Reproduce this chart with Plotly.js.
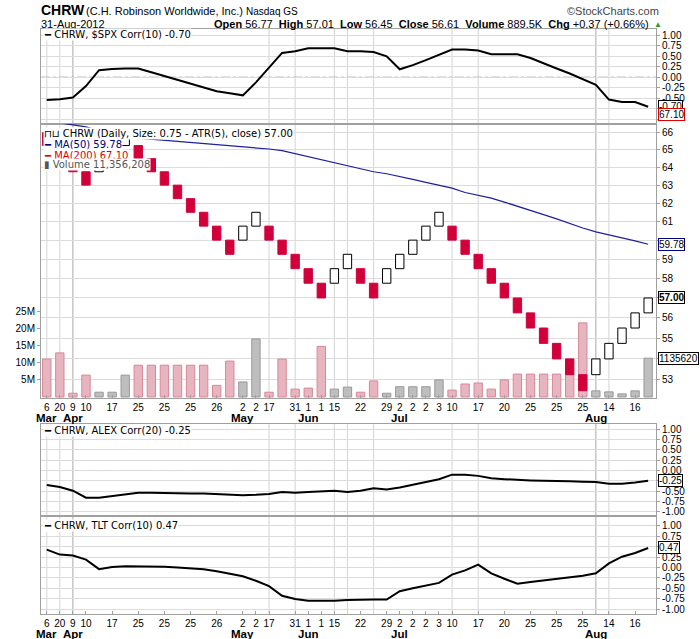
<!DOCTYPE html>
<html>
<head>
<meta charset="utf-8">
<script src="https://cdn.plot.ly/plotly-3.0.1.min.js"></script>
<style>
  body { margin: 0; background: #fff; }
  #chart { width: 700px; height: 639px; }
</style>
</head>
<body>
<div id="chart"></div>
<script>
// one renko brick per column, 6-Mar-2012 .. 31-Aug-2012
const brickLow = [65.25, 64.5, 63.75, 63, 63.75, 64.5, 65.25, 64.5, 63.75, 63, 62.25, 61.5, 60.75, 60, 59.25,
    60, 60.75, 60, 59.25, 58.5, 57.75, 57, 57.75, 58.5, 57.75, 57, 57.75, 58.5, 59.25, 60, 60.75,
    60, 59.25, 58.5, 57.75, 57, 56.25, 55.5, 54.75, 54, 53.25, 52.5, 53.25, 54, 54.75, 55.5, 56.25];
const brickDir = 'DDDDUUUDDDDDDDDUUDDDDDUUDDUUUUUDDDDDDDDDDDUUUUU'.split('');
const brickSize = 0.75;

const volumeM = [11.1, 12.9, 1.1, 6.4, 1.4, 1.4, 6.4, 9.3, 9.3, 9.3, 9.3, 9.3, 9.3, 3.4, 10.5, 4.4, 17.0,
    1.4, 11.1, 2.3, 2.6, 14.8, 2.3, 2.9, 1.4, 4.7, 1.1, 3.0, 3.0, 3.0, 5.0, 2.0, 3.8, 4.1, 2.3, 5.0,
    6.7, 6.7, 6.7, 6.7, 6.7, 21.7, 1.8, 1.5, 0.9, 1.8, 11.36];

const ma50 = [66.75, 66.57, 66.46, 66.34, 66.11, 65.93, 65.76, 65.68, 65.62, 65.56, 65.50, 65.44, 65.38,
    65.32, 65.25, 65.19, 65.13, 65.05, 64.96, 64.79, 64.62, 64.44, 64.27, 64.12, 63.95, 63.75, 63.64,
    63.50, 63.32, 63.15, 62.99, 62.83, 62.59, 62.43, 62.28, 62.06, 61.84, 61.61, 61.37, 61.14, 60.89,
    60.65, 60.44, 60.29, 60.14, 59.96, 59.78];

const corrSpx = [-0.54, -0.52, -0.48, -0.21, 0.17, 0.20, 0.21, 0.21, 0.12, 0.03, -0.06, -0.14, -0.23, -0.33,
    -0.38, -0.43, -0.12, 0.22, 0.58, 0.62, 0.69, 0.69, 0.69, 0.62, 0.62, 0.60, 0.50, 0.19, 0.29, 0.41,
    0.53, 0.66, 0.66, 0.64, 0.55, 0.55, 0.55, 0.46, 0.33, 0.21, 0.09, -0.04, -0.18, -0.53, -0.59, -0.59, -0.70];

const corrAlex = [-0.35, -0.40, -0.49, -0.66, -0.66, -0.62, -0.58, -0.54, -0.54, -0.55, -0.55, -0.56, -0.56,
    -0.57, -0.59, -0.60, -0.59, -0.57, -0.52, -0.54, -0.52, -0.51, -0.49, -0.52, -0.49, -0.43, -0.46,
    -0.41, -0.34, -0.28, -0.21, -0.10, -0.10, -0.13, -0.19, -0.21, -0.23, -0.24, -0.25, -0.25, -0.26,
    -0.27, -0.28, -0.32, -0.32, -0.29, -0.25];

const corrTlt = [0.43, 0.31, 0.29, 0.19, -0.04, 0.01, 0.03, 0.03, 0.03, 0.02, 0.00, -0.02, -0.04, -0.09,
    -0.15, -0.21, -0.32, -0.45, -0.68, -0.76, -0.80, -0.80, -0.80, -0.78, -0.77, -0.77, -0.77, -0.57,
    -0.50, -0.44, -0.37, -0.17, -0.07, 0.07, -0.14, -0.27, -0.39, -0.35, -0.31, -0.28, -0.24, -0.20,
    -0.14, 0.10, 0.26, 0.35, 0.47];

// x axis labels
const tickCols = [0, 1, 2, 3, 5, 7, 9, 11, 13, 15, 16, 17, 19, 20, 21, 22, 24, 26, 27, 28, 29, 30, 31, 33, 35, 37, 39, 41, 43, 45];
const tickDays = ['6', '20', '9', '10', '17', '25', '25', '25', '26', '2', '2', '17', '31', '1', '1', '15', '22', '29',
    '2', '2', '2', '3', '10', '17', '20', '25', '25', '25', '14', '16'];
const monthCols = [0, 2, 15, 20, 27, 42];
const monthNames = ['Mar', 'Apr', 'May', 'Jun', 'Jul', 'Aug'];
const weekLineCols = [0, 1, 17, 19, 22, 23, 25, 31, 33, 43];
const monthLineCols = [2, 42];

const priceTicks = [53, 54, 55, 56, 57, 58, 59, 60, 61, 62, 63, 64, 65, 66];
const volTicks = [5, 10, 15, 20, 25];
const corrTicks = [1, 0.75, 0.5, 0.25, 0, -0.25, -0.5, -0.75, -1];

// ---- page geometry (pixels) ----
const L = 41, R = 656, T = 29, B = 614;
const px = x => (x - L) / (R - L);
const py = y => (B - y) / (B - T);

const cols = brickLow.map((_, i) => i);
const RED = '#d2003a';
const AX_FONT = { family: 'Liberation Sans, Arial, sans-serif', size: 10, color: '#000' };
const LEG_FONT = { family: 'DejaVu Sans, Verdana, sans-serif', size: 10, color: '#000' };
const GRID = '#dcdcdc';
const FRAME = '#a0a0a0';

const traces = [
    {
        x: cols, y: volumeM, type: 'bar', xaxis: 'x2', yaxis: 'y2', width: 0.64,
        marker: {
            color: brickDir.map(d => d === 'D' ? '#e7b5c0' : '#bebebe'),
            line: { color: brickDir.map(d => d === 'D' ? '#d88797' : '#9a9a9a'), width: 1 }
        },
        hoverinfo: 'skip'
    },
    {
        x: cols, y: cols.map(() => brickSize), base: brickLow, type: 'bar', xaxis: 'x2', yaxis: 'y3', width: 0.64,
        marker: {
            color: brickDir.map(d => d === 'D' ? RED : '#ffffff'),
            line: { color: brickDir.map(d => d === 'D' ? RED : '#000000'), width: 1 }
        },
        hoverinfo: 'skip'
    },
    { x: cols, y: ma50, type: 'scatter', mode: 'lines', xaxis: 'x2', yaxis: 'y3', line: { color: '#1f1f9a', width: 1.2 } },
    { x: cols, y: corrSpx, type: 'scatter', mode: 'lines', xaxis: 'x', yaxis: 'y', line: { color: '#000', width: 2 } },
    { x: cols, y: corrAlex, type: 'scatter', mode: 'lines', xaxis: 'x3', yaxis: 'y4', line: { color: '#000', width: 2 } },
    { x: cols, y: corrTlt, type: 'scatter', mode: 'lines', xaxis: 'x4', yaxis: 'y5', line: { color: '#000', width: 2 } }
];

function xAxis(anchor, labels) {
    const ax = {
        anchor, range: [-0.44, 46.6], showgrid: false, zeroline: false,
        showline: true, mirror: true, linecolor: FRAME, fixedrange: true
    };
    if (labels) {
        Object.assign(ax, {
            tickmode: 'array', tickvals: tickCols, ticktext: tickDays,
            ticks: 'inside', ticklen: 3, tickcolor: FRAME, tickfont: AX_FONT
        });
    } else {
        ax.showticklabels = false;
    }
    return ax;
}

// labels hidden where a value tag sits on top of them
function corrAxis(anchor, domain, range, hidden) {
    return {
        anchor, domain, range, side: 'right', tickmode: 'array', tickvals: corrTicks,
        ticktext: corrTicks.map(v => hidden.includes(v) ? '' : v.toFixed(2)),
        showgrid: true, gridcolor: GRID, zeroline: false,
        showline: true, mirror: true, linecolor: FRAME, ticks: 'outside', ticklen: 3, tickcolor: FRAME,
        tickfont: AX_FONT, fixedrange: true
    };
}

const shapes = [];
[['x', 'y'], ['x2', 'y2'], ['x3', 'y4'], ['x4', 'y5']].forEach(([xr, yr]) => {
    weekLineCols.forEach(c => shapes.push({
        type: 'line', xref: xr, yref: yr + ' domain', x0: c, x1: c, y0: 0, y1: 1,
        line: { color: '#d4d4d4', width: 1 }, layer: 'below'
    }));
    monthLineCols.forEach(c => shapes.push({
        type: 'line', xref: xr, yref: yr + ' domain', x0: c, x1: c, y0: 0, y1: 1,
        line: { color: '#a8a8a8', width: 1 }, layer: 'below'
    }));
});
[['x', 'y'], ['x3', 'y4'], ['x4', 'y5']].forEach(([xr, yr]) => shapes.push({
    type: 'line', xref: xr + ' domain', yref: yr, x0: 0, x1: 1, y0: 0, y1: 0,
    line: { color: '#666', width: 1, dash: 'dashdot' }, layer: 'below'
}));

const ann = [];
function text(x, y, t, font, extra) {
    ann.push(Object.assign({
        xref: 'paper', yref: 'paper', x: px(x), y: py(y), text: t, showarrow: false,
        xanchor: 'left', yanchor: 'middle', font
    }, extra || {}));
}
const HEAD = 'Liberation Sans, Arial, sans-serif';
text(39, 10, '<b>CHRW</b>', { family: HEAD, size: 14, color: '#000' });
text(84, 11, '(C.H. Robinson Worldwide, Inc.)', { family: HEAD, size: 11, color: '#000' });
text(244, 11, 'Nasdaq GS', { family: HEAD, size: 10, color: '#000' });
text(661, 11, '©StockCharts.com', { family: HEAD, size: 11, color: '#444' }, { xanchor: 'right' });
text(39, 24, '31-Aug-2012', { family: HEAD, size: 11, color: '#000' });
text(651, 24, '<b>Open</b> 56.77  <b>High</b> 57.01  <b>Low</b> 56.45  <b>Close</b> 56.61  <b>Volume</b> 889.5K  <b>Chg</b> +0.37 (+0.66%)',
    { family: HEAD, size: 11, color: '#000' }, { xanchor: 'right' });
text(652, 24, '▲', { family: HEAD, size: 8, color: '#2a9a2a' });

// panel legends
const legBg = { bgcolor: '#ffffff', borderpad: 0 };
text(43, 35, '━ CHRW, $SPX Corr(10) -0.70', LEG_FONT, legBg);
text(43, 133, '⊓⊔ CHRW (Daily, Size: 0.75 - ATR(5), close) 57.00', LEG_FONT, legBg);
text(43, 144.5, '━ MA(50) 59.78', Object.assign({}, LEG_FONT, { color: '#000080' }), legBg);
text(43, 155, '━ MA(200) 67.10', Object.assign({}, LEG_FONT, { color: '#e00000' }), legBg);
text(43, 165, '▮ Volume 11,356,208', Object.assign({}, LEG_FONT, { color: '#555' }), legBg);
text(43, 430, '━ CHRW, ALEX Corr(20) -0.25', LEG_FONT, legBg);
text(43, 525, '━ CHRW, TLT Corr(10) 0.47', LEG_FONT, legBg);

// month labels below day labels
monthCols.forEach((c, i) => {
    ['x2', 'x4'].forEach((xr, k) => ann.push({
        xref: xr, yref: 'paper', x: c, y: py(k === 0 ? 418 : 633.5), text: '<b>' + monthNames[i] + '</b>',
        showarrow: false, xanchor: 'center', yanchor: 'middle',
        font: { family: HEAD, size: 11.5, color: '#000' }
    }));
});

// value tags on the right axis
function tag(yref, y, t, color, bold) {
    ann.push({
        xref: 'paper', yref, x: 1, y, text: bold ? '<b>' + t + '</b>' : t, showarrow: false,
        xanchor: 'left', yanchor: 'middle', xshift: 2, bgcolor: '#fff', bordercolor: color,
        borderwidth: 1, borderpad: 0, font: { family: HEAD, size: 10, color: '#000' }
    });
}
tag('y', corrSpx[corrSpx.length - 1], '-0.70', '#000');
tag('paper', py(114.7), '67.10', '#e00000');
tag('y3', Math.log10(ma50[ma50.length - 1]), '59.78', '#000080');
tag('y3', Math.log10(brickLow[brickLow.length - 1] + brickSize), '57.00', '#000', true);
tag('y2', volumeM[volumeM.length - 1], '1135620', '#000');
tag('y4', corrAlex[corrAlex.length - 1], '-0.25', '#000');
tag('y5', corrTlt[corrTlt.length - 1], '0.47', '#000');

const hiddenPrice = [54, 57, 60];

const layout = {
    width: 700, height: 639,
    margin: { l: L, r: 700 - R, t: T, b: 639 - B },
    paper_bgcolor: '#fff', plot_bgcolor: '#fff',
    showlegend: false, barmode: 'overlay',
    xaxis: xAxis('y', false),
    xaxis2: xAxis('y2', true),
    xaxis3: xAxis('y4', false),
    xaxis4: xAxis('y5', true),
    yaxis: corrAxis('x', [py(124), 1], [-1.112, 1.15], [-0.75, -1]),
    yaxis2: {
        anchor: 'x2', domain: [py(398), py(124)], range: [-0.3, 79.9], side: 'left',
        tickmode: 'array', tickvals: volTicks, ticktext: volTicks.map(v => v + 'M'),
        showgrid: false, zeroline: false, showline: true, mirror: true, linecolor: FRAME,
        ticks: 'outside', ticklen: 3, tickcolor: FRAME, tickfont: AX_FONT, fixedrange: true
    },
    yaxis3: {
        anchor: 'x2', overlaying: 'y2', type: 'log', side: 'right',
        range: [Math.log10(52.16), Math.log10(66.51)],
        tickmode: 'array', tickvals: priceTicks,
        ticktext: priceTicks.map(v => hiddenPrice.includes(v) ? '' : String(v)),
        showgrid: true, gridcolor: GRID, zeroline: false, showline: true, linecolor: FRAME,
        ticks: 'outside', ticklen: 3, tickcolor: FRAME, tickfont: AX_FONT, fixedrange: true
    },
    yaxis4: corrAxis('x3', [py(516), py(424)], [-1.104, 1.129], [-0.25]),
    yaxis5: corrAxis('x4', [0, py(516)], [-1.12, 1.24], [0.5]),
    shapes, annotations: ann
};

Plotly.newPlot('chart', traces, layout, { displayModeBar: false, staticPlot: true });
</script>
</body>
</html>
